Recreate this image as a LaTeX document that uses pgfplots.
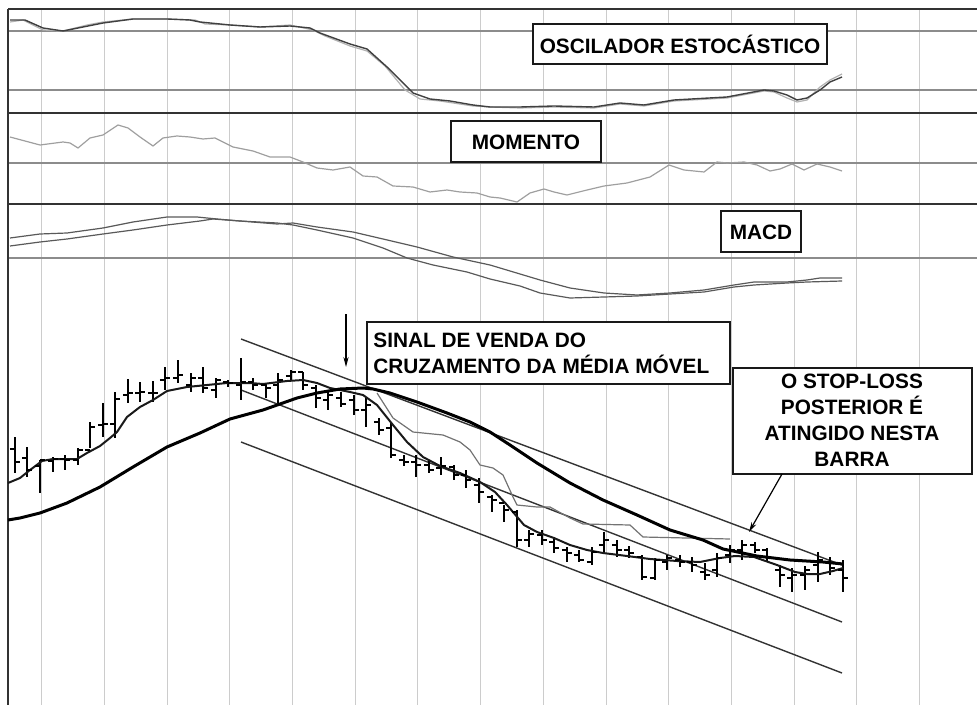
\documentclass[border=0pt]{standalone}
\usepackage{fontspec}
\setmainfont{Liberation Sans}
\usepackage{pgfplots}
\usepackage{pgfplotstable}
\pgfplotsset{compat=1.18}
\usetikzlibrary{arrows.meta}

\definecolor{gridv}{gray}{0.80}
\definecolor{gridh}{gray}{0.55}
\definecolor{sep}{gray}{0.20}

% open / close ticks of the bars
\pgfdeclareplotmark{otick}{\pgfpathmoveto{\pgfqpoint{-2.6pt}{0pt}}\pgfpathlineto{\pgfqpoint{0pt}{0pt}}\pgfusepathqstroke}
\pgfdeclareplotmark{ctick}{\pgfpathmoveto{\pgfqpoint{0pt}{0pt}}\pgfpathlineto{\pgfqpoint{2.6pt}{0pt}}\pgfusepathqstroke}

% price bars, in picture units (y grows downwards)
\pgfplotstableread{
x   h   l   o   c
15  437 473 449 462
27  447 477 458 470
40  460 493 466 460
53  457 472 461 459
65  455 470 459 460
78  448 465 460 450
90  422 448 450 427
103 403 437 425 424
115 392 438 424 399
128 379 403 395 393
140 382 402 393 392
153 381 402 393 393
165 367 390 380 378
178 360 383 378 375
191 373 392 385 378
203 367 393 378 388
216 378 398 390 380
228 380 387 382 383
241 358 400 385 382
253 378 390 382 385
266 383 398 385 388
278 373 403 385 380
291 370 380 376 372
303 372 390 372 385
316 385 408 388 398
328 392 410 400 395
341 392 407 398 404
354 395 415 400 410
366 398 427 410 405
379 418 435 422 430
391 423 458 428 455
404 455 466 460 462
416 455 477 462 465
429 460 473 465 470
441 457 475 468 466
454 465 480 467 475
466 470 488 475 480
479 478 503 485 492
492 495 512 497 500
504 505 522 503 510
517 510 547 512 540
529 530 547 540 534
542 530 545 535 540
554 538 553 542 548
567 547 562 550 553
579 550 562 555 560
592 547 565 562 552
604 532 553 545 540
617 540 557 545 550
629 546 558 550 553
642 555 580 557 577
655 558 580 578 560
667 555 570 562 558
680 555 567 560 562
692 557 572 562 565
705 563 580 572 575
717 553 577 570 558
730 545 563 555 550
742 540 560 550 545
755 542 553 545 550
767 548 562 550 558
780 565 587 570 575
792 568 592 578 575
805 566 590 575 570
818 552 582 565 560
830 557 575 562 568
843 560 592 570 578
}\bars

\begin{document}
\begin{tikzpicture}
\begin{axis}[
    scale only axis,
    width=488.5pt, height=352.5pt,
    xmin=0, xmax=977, ymin=0, ymax=705,
    y dir=reverse,
    axis line style={draw=none},
    tick style={draw=none},
    xtick={41.7,104.4,167.1,229.8,292.5,355.2,417.9,480.6,543.3,606,668.7,731.4,794.1,856.8,919.5},
    ytick={31,90,163,258},
    xticklabels={}, yticklabels={},
    grid=major,
    x grid style={draw=gridv, line width=0.5pt},
    y grid style={draw=gridh, line width=0.7pt},
    clip=false,
]
    % white margin above and left of the frame
    \fill[white] (axis cs:0,0) rectangle (axis cs:977,8.5);
    \fill[white] (axis cs:0,0) rectangle (axis cs:8,705);
    \coordinate (bl) at (axis cs:0,705);
    \coordinate (tr) at (axis cs:977,0);

    % frame and panel separators
    \draw[sep, line width=0.6pt] (axis cs:8,9) -- (axis cs:977,9);
    \draw[sep, line width=0.6pt] (axis cs:8,9) -- (axis cs:8,705);
    \draw[sep, line width=1.3pt] (axis cs:8,113) -- (axis cs:977,113);
    \draw[sep, line width=1.3pt] (axis cs:8,204) -- (axis cs:977,204);

    % stochastic oscillator
    \addplot[gray!60, line width=0.6pt] coordinates {
        (10,22)(23,20)(43,30)(63,31)(87,25)(103,22)(133,19)(167,19)(195,20)(205,24)
        (230,25)(260,27)(290,25)(313,30)(325,36)(350,46)(367,51)(385,66)(405,90)(420,99)
        (440,101)(473,106)(490,107)(520,108)(554,107)(594,108)(620,104)(644,106)(674,101)
        (727,98)(764,91)(774,92)(787,98)(797,102)(807,100)(820,87)(830,80)(842,74)};
    \addplot[black!75, line width=0.7pt] coordinates {
        (10,20)(25,20)(43,28)(63,31)(83,27)(103,23)(133,19)(167,19)(190,20)(200,22)
        (230,25)(260,27)(290,26)(310,28)(320,33)(350,44)(367,49)(387,67)(413,93)(430,99)
        (450,101)(473,105)(490,107)(520,107)(554,106)(594,107)(620,103)(644,105)(674,100)
        (727,97)(764,90)(774,91)(787,95)(797,100)(807,98)(820,90)(830,82)(842,77)};

    % momentum
    \addplot[gray!75, line width=0.6pt] coordinates {
        (10,137)(40,145)(63,142)(70,143)(78,148)(90,138)(103,135)(118,125)(128,128)(140,137)
        (153,146)(163,138)(177,136)(190,137)(203,139)(215,138)(233,147)(253,151)(270,157)
        (290,157)(303,162)(317,168)(333,170)(350,167)(363,176)(377,177)(393,186)(413,187)
        (430,192)(447,190)(460,192)(477,193)(490,197)(500,198)(517,202)(530,193)(544,189)
        (554,192)(567,195)(587,190)(604,186)(627,183)(650,177)(669,165)(684,170)(704,172)
        (717,162)(727,163)(744,162)(757,165)(770,171)(780,169)(792,164)(804,170)(817,164)
        (830,167)(842,171)};

    % MACD
    \addplot[black!65, line width=0.6pt] coordinates {
        (10,238)(40,234)(67,233)(103,228)(133,222)(167,217)(197,217)(217,219)(240,221)
        (277,224)(293,223)(317,227)(353,232)(383,239)(417,247)(453,257)(490,265)(540,280)
        (570,288)(604,293)(637,295)(670,293)(704,290)(734,285)(754,282)(787,282)(807,280)
        (820,278)(842,278)};
    \addplot[black!65, line width=0.6pt] coordinates {
        (10,246)(40,242)(67,239)(103,234)(133,230)(167,225)(200,221)(213,219)(240,221)
        (277,223)(293,225)(317,230)(353,238)(383,248)(407,258)(433,265)(467,272)(490,279)
        (520,286)(540,293)(570,298)(604,297)(637,296)(670,294)(704,292)(734,287)(754,285)
        (787,283)(807,282)(842,281)};

    % regression channel
    \addplot[black!80, line width=0.7pt] coordinates {(241,339)(842,565)};
    \addplot[black!80, line width=0.7pt] coordinates {(241,390)(842,622)};
    \addplot[black!80, line width=0.7pt] coordinates {(241,442)(842,673)};

    % trailing stop
    \addplot[black!55, line width=0.6pt] coordinates {
        (377,393)(393,418)(413,432)(443,435)(460,442)(470,450)(480,465)(493,468)(503,475)
        (513,497)(517,505)(537,507)(550,507)(570,518)(583,524)(630,525)(643,537)(730,539)};

    % bars: high-low, open, close
    \addplot[draw=none, mark=none, forget plot,
        error bars/.cd, y dir=plus, y explicit, error mark=none,
        error bar style={draw=black, line width=0.55pt}]
        table[x=x, y=h, y error expr=\thisrow{l}-\thisrow{h}] {\bars};
    \addplot[only marks, mark=otick, mark options={black, line width=0.55pt}] table[x=x, y=o] {\bars};
    \addplot[only marks, mark=ctick, mark options={black, line width=0.55pt}] table[x=x, y=c] {\bars};

    % moving averages
    \addplot[black!90, line width=1pt] coordinates {
        (8,483)(20,478)(30,470)(42,461)(53,459)(77,459)(87,453)(100,446)(110,438)(117,432)
        (127,417)(140,407)(153,400)(167,391)(187,387)(207,385)(227,383)(250,383)(263,384)
        (287,381)(303,380)(317,383)(330,388)(350,392)(363,395)(377,405)(393,425)(407,442)
        (423,457)(440,466)(460,473)(480,482)(495,492)(507,505)(524,525)(537,532)(554,538)
        (570,545)(587,550)(603,553)(627,556)(650,559)(677,561)(700,562)(720,558)(735,556)
        (754,557)(777,565)(795,572)(807,574)(820,574)(833,571)(843,568)};
    \addplot[black, line width=1.5pt] coordinates {
        (8,520)(20,518)(40,513)(67,503)(100,487)(133,467)(167,447)(200,433)(230,419)
        (263,410)(280,404)(297,398)(317,393)(340,389)(363,388)(373,389)(390,393)(417,402)
        (447,413)(470,422)(490,432)(510,445)(537,463)(570,483)(603,500)(637,515)(670,530)
        (703,540)(723,549)(757,556)(790,560)(823,562)(843,564)};

    % annotations
    \tikzset{lbl/.style={font=\bfseries\fontsize{10.4}{13}\selectfont, inner sep=0pt}}
    \draw[black!90, line width=1.2pt, fill=white] (axis cs:533,24) rectangle (axis cs:827,64);
    \node[lbl] at (axis cs:680,44) {OSCILADOR ESTOCÁSTICO};
    \draw[black!90, line width=1.2pt, fill=white] (axis cs:451,121) rectangle (axis cs:601,162);
    \node[lbl] at (axis cs:526,142) {MOMENTO};
    \draw[black!90, line width=1.2pt, fill=white] (axis cs:721,211) rectangle (axis cs:801,252);
    \node[lbl] at (axis cs:761,232) {MACD};
    \draw[black!90, line width=1.2pt, fill=white] (axis cs:367,322) rectangle (axis cs:730,384);
    \node[lbl, anchor=west, align=left] at (axis cs:373,353) {SINAL DE VENDA DO\\CRUZAMENTO DA MÉDIA MÓVEL};
    \draw[black!90, line width=1.2pt, fill=white] (axis cs:733,368) rectangle (axis cs:972,474);
    \node[lbl, align=center] at (axis cs:852,420) {O STOP-LOSS\\POSTERIOR É\\ATINGIDO NESTA\\BARRA};
    \draw[black, line width=0.6pt, -{Stealth[length=5pt, width=2.6pt]}] (axis cs:346,314) -- (axis cs:346,367);
    \draw[black, line width=0.6pt, -{Stealth[length=5pt, width=2.6pt]}] (axis cs:782,474) -- (axis cs:749,532);
\end{axis}
\pgfresetboundingbox
\path[use as bounding box] (bl) rectangle (tr);
\end{tikzpicture}
\end{document}
